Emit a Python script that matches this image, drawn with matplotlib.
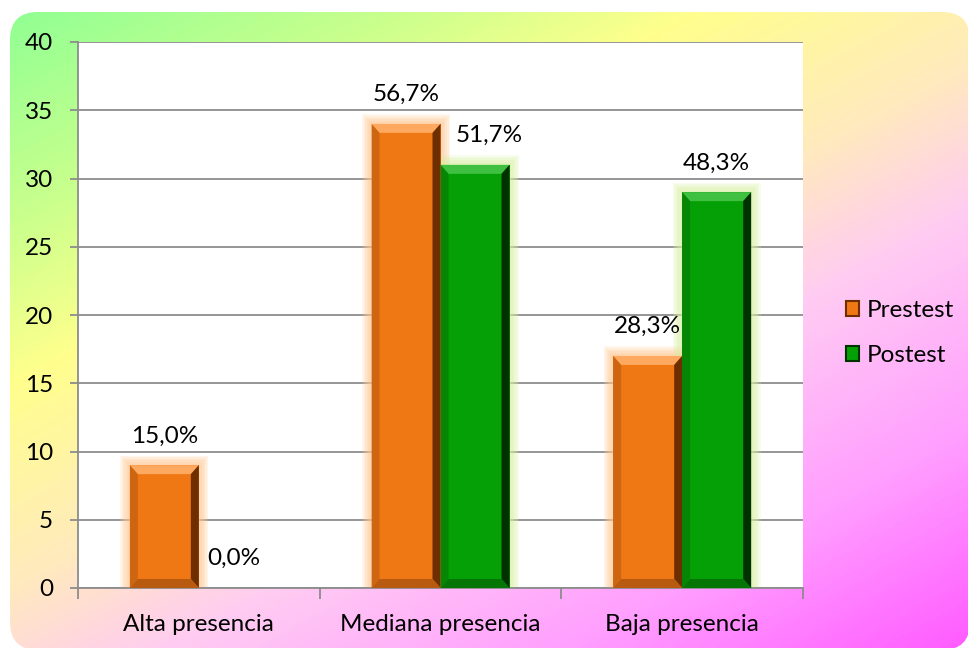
import numpy as np
import matplotlib
matplotlib.use("Agg")
import matplotlib.pyplot as plt
from matplotlib.patches import FancyBboxPatch, Polygon, Rectangle, Patch
from matplotlib.colors import LinearSegmentedColormap

categories = ["Alta presencia", "Mediana presencia", "Baja presencia"]
series_names = ["Prestest", "Postest"]
prestest = [9, 34, 17]
postest = [0, 31, 29]
prestest_labels = ["15,0%", "56,7%", "28,3%"]
postest_labels = ["0,0%", "51,7%", "48,3%"]
yticks = [0, 5, 10, 15, 20, 25, 30, 35, 40]

plt.rcParams["font.family"] = ["Lato", "DejaVu Sans"]
FS = 17.5

W, H = 968, 648
fig = plt.figure(figsize=(W / 100, H / 100), dpi=100)

# background: rounded box with diagonal gradient
bg = fig.add_axes([0, 0, 1, 1])
bg.set_xlim(0, W)
bg.set_ylim(H, 0)
bg.axis("off")
xx, yy = np.meshgrid(np.linspace(0, 1, 300), np.linspace(0, 1, 200))
t = 0.45 * xx + 0.55 * yy
grad = LinearSegmentedColormap.from_list("bg", [
    (0.0, (0.55, 1.0, 0.58)),
    (0.2, (0.80, 1.0, 0.55)),
    (0.33, (1.0, 1.0, 0.55)),
    (0.5, (1.0, 0.92, 0.74)),
    (0.63, (1.0, 0.80, 0.95)),
    (0.82, (1.0, 0.62, 1.0)),
    (1.0, (1.0, 0.36, 1.0)),
])
im = bg.imshow(t, cmap=grad, extent=(0, W, H, 0), aspect="auto", vmin=0, vmax=1)
box = FancyBboxPatch((10, 12), W - 8, H - 10, boxstyle="round,pad=0,rounding_size=28",
                     transform=bg.transData, facecolor="none", edgecolor="none")
bg.add_patch(box)
im.set_clip_path(box)

# plot area
L, R, T, B = 78, 803, 42, 588
ax = fig.add_axes([L / W, 1 - B / H, (R - L) / W, (B - T) / H])
ax.set_facecolor("white")
ax.set_xlim(-0.5, 2.5)
ax.set_ylim(0, 40)
px_x = (R - L) / 3.0
px_y = (B - T) / 40.0

x = np.arange(len(categories))
bw = 69 / px_x

colors = {"Prestest": ("#f07814", "#ffa860", "#6e2e00", "#b85a10", "#ffc890"),
          "Postest": ("#05a005", "#40c040", "#003200", "#057505", "#d8f0a0")}


def bevel_bars(bars, cols):
    base, light, dark, mid, glow = cols
    dx = 8 / px_x
    dy = 9 / px_y
    for b in bars:
        x0, w, h = b.get_x(), b.get_width(), b.get_height()
        if h <= 0:
            continue
        for k in range(6, 0, -1):
            gx = k * 1.6 / px_x
            gy = k * 1.6 / px_y
            ax.add_patch(Rectangle((x0 - gx, 0), w + 2 * gx, h + gy, facecolor=glow,
                                   edgecolor="none", alpha=0.18, zorder=2))
        ax.add_patch(Polygon([(x0, h), (x0 + w, h), (x0 + w - dx, h - dy), (x0 + dx, h - dy)],
                             facecolor=light, edgecolor="none", zorder=4))
        ax.add_patch(Polygon([(x0 + w, h), (x0 + w, 0), (x0 + w - dx, dy), (x0 + w - dx, h - dy)],
                             facecolor=dark, edgecolor="none", zorder=4))
        ax.add_patch(Polygon([(x0, 0), (x0 + w, 0), (x0 + w - dx, dy), (x0 + dx, dy)],
                             facecolor=mid, edgecolor="none", zorder=4))
        ax.add_patch(Polygon([(x0, 0), (x0, h), (x0 + dx, h - dy), (x0 + dx, dy)],
                             facecolor=mid, edgecolor="none", alpha=0.6, zorder=4))


b1 = ax.bar(x - bw / 2, prestest, bw, color=colors["Prestest"][0], zorder=3)
b2 = ax.bar(x + bw / 2, postest, bw, color=colors["Postest"][0], zorder=3)
bevel_bars(b1, colors["Prestest"])
bevel_bars(b2, colors["Postest"])

for b, lab in zip(b1, prestest_labels):
    ax.annotate(lab, (b.get_x() + b.get_width() / 2, b.get_height()),
                xytext=(0, 21), textcoords="offset points",
                ha="center", va="center", fontsize=FS, zorder=6)
for b, other, lab in zip(b2, b1, postest_labels):
    # push the label right when the neighbouring bar is taller than this one
    shift = 10 if 0 < other.get_height() - b.get_height() < 5 else 0
    ax.annotate(lab, (b.get_x() + b.get_width() / 2, b.get_height()),
                xytext=(shift, 21), textcoords="offset points",
                ha="center", va="center", fontsize=FS, zorder=6)

# axes styling
ax.set_yticks(yticks)
ax.yaxis.grid(True, color="#8c8c8c", linewidth=1.3)
ax.set_axisbelow(True)
for s in ("top", "right"):
    ax.spines[s].set_visible(False)
ax.spines["left"].set_color("#8c8c8c")
ax.spines["bottom"].set_color("#8c8c8c")
ax.spines["left"].set_linewidth(1.3)
ax.spines["bottom"].set_linewidth(1.3)
ax.tick_params(axis="y", length=6, width=1.3, color="#8c8c8c", pad=12, labelsize=FS)
ax.set_xticks([-0.5, 0.5, 1.5, 2.5])
ax.set_xticklabels([])
ax.set_xticks(x, minor=True)
ax.set_xticklabels(categories, minor=True)
ax.tick_params(axis="x", which="major", length=8, width=1.3, color="#8c8c8c")
ax.tick_params(axis="x", which="minor", length=0, pad=19, labelsize=FS)

handles = [Patch(facecolor=colors[n][0], edgecolor=colors[n][2], linewidth=1.5) for n in series_names]
fig.legend(handles, series_names, loc="center left", bbox_to_anchor=(824 / W, 1 - 333 / H),
           frameon=False, handlelength=0.55, handleheight=0.55, handletextpad=0.3,
           labelspacing=1.0, fontsize=FS)

fig.savefig("out.png", dpi=100)
